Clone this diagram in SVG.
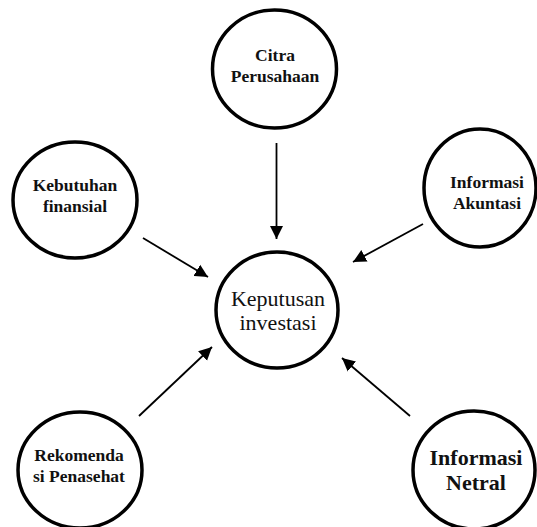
<svg xmlns="http://www.w3.org/2000/svg" width="537" height="527" viewBox="0 0 537 527">
<style>
.node{fill:#fff;stroke:#000;stroke-width:3.5}
.lbl{font-family:"Liberation Serif","Times New Roman",serif;font-weight:bold;font-size:17.5px;text-anchor:middle;fill:#111}
.big{font-size:22px}
.ctr{font-family:"Liberation Serif","Times New Roman",serif;font-size:22px;text-anchor:middle;fill:#111}
.edge{stroke:#000;stroke-width:1.8;fill:none;marker-end:url(#ah)}
</style>
<defs>
<marker id="ah" markerUnits="userSpaceOnUse" markerWidth="14" markerHeight="14" refX="13" refY="7" orient="auto">
<path d="M0,0.5 L13,7 L0,13.5 Z" fill="#000"/>
</marker>
</defs>
<rect width="537" height="527" fill="#fff"/>
<g id="connectors">
<line class="edge" x1="276.5" y1="143" x2="276.5" y2="239"/>
<line class="edge" x1="143" y1="238" x2="208" y2="277"/>
<line class="edge" x1="423" y1="224" x2="353" y2="262"/>
<line class="edge" x1="139" y1="416" x2="212" y2="347"/>
<line class="edge" x1="410" y1="416" x2="342" y2="358"/>
</g>
<g id="citra">
<ellipse class="node" cx="274.5" cy="69" rx="62" ry="59"/>
<text class="lbl" x="275" y="61">Citra</text>
<text class="lbl" x="275" y="82">Perusahaan</text>
</g>
<g id="kebutuhan">
<ellipse class="node" cx="75" cy="200" rx="62" ry="58"/>
<text class="lbl" x="75" y="191">Kebutuhan</text>
<text class="lbl" x="75" y="212">finansial</text>
</g>
<g id="akuntasi">
<ellipse class="node" cx="480" cy="188" rx="56" ry="59"/>
<text class="lbl" x="487" y="188">Informasi</text>
<text class="lbl" x="487" y="209">Akuntasi</text>
</g>
<g id="keputusan">
<ellipse class="node" cx="277" cy="310" rx="61" ry="58"/>
<text class="ctr" x="278" y="306">Keputusan</text>
<text class="ctr" x="278" y="330">investasi</text>
</g>
<g id="rekomendasi">
<ellipse class="node" cx="80" cy="470" rx="62" ry="58"/>
<text class="lbl" x="79" y="461">Rekomenda</text>
<text class="lbl" x="79" y="482">si Penasehat</text>
</g>
<g id="netral">
<ellipse class="node" cx="474" cy="470" rx="61" ry="59"/>
<text class="lbl big" x="476" y="465">Informasi</text>
<text class="lbl big" x="476" y="490">Netral</text>
</g>
</svg>
